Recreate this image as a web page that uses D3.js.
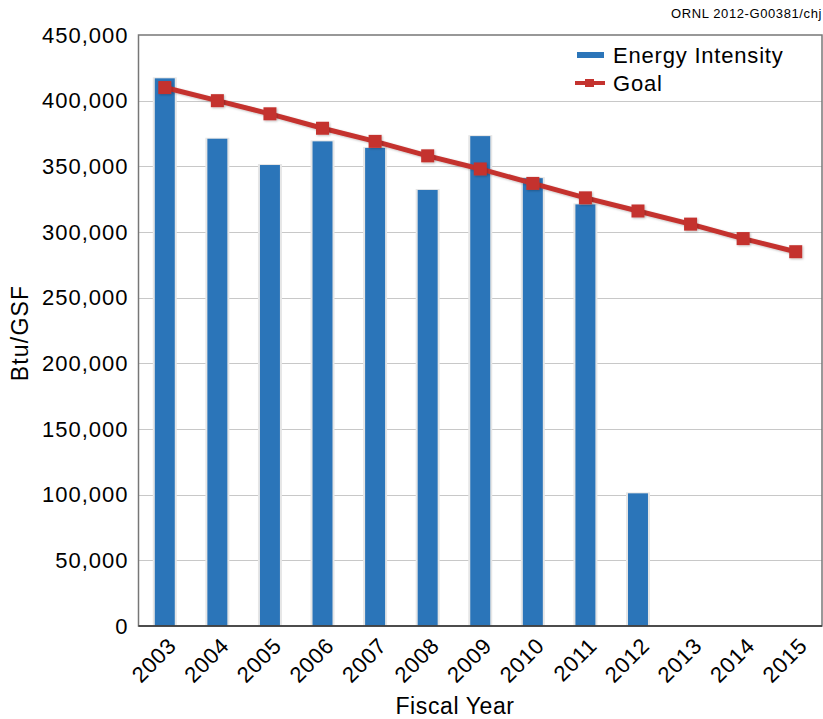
<!DOCTYPE html>
<html>
<head>
<meta charset="utf-8">
<script src="https://cdn.jsdelivr.net/npm/d3@7"></script>
<style>
  body { margin: 0; background: #fff; }
  text { font-family: "Liberation Sans", Arial, sans-serif; fill: #000; }
</style>
</head>
<body>
<svg id="chart"></svg>
<script>
// fiscal years and values
var years = ['2003', '2004', '2005', '2006', '2007', '2008', '2009', '2010', '2011', '2012', '2013', '2014', '2015']
var intensity = [417000, 371000, 351000, 369000, 364000, 332000, 373000, 341000, 321000, 101000, null, null, null]
var goal = [410000, 400000, 390000, 379000, 369000, 358000, 348000, 337000, 326000, 316000, 306000, 295000, 285000]
var yTicks = [0, 50000, 100000, 150000, 200000, 250000, 300000, 350000, 400000, 450000]

var blue = '#2b75b9'
var red = '#c4332f'

var margin = {top: 35, right: 1, bottom: 93, left: 138.5}
var width = 823 - margin.left - margin.right
var height = 719 - margin.top - margin.bottom

var svg = d3.select('#chart')
    .attr('width', 823)
    .attr('height', 719)

var defs = svg.append('defs')
var shadow = defs.append('filter')
    .attr('id', 'shadow')
    .attr('x', '-30%').attr('y', '-30%')
    .attr('width', '160%').attr('height', '160%')
shadow.append('feDropShadow')
    .attr('dx', 1).attr('dy', 1)
    .attr('stdDeviation', 1.2)
    .attr('flood-color', '#000')
    .attr('flood-opacity', 0.25)

var g = svg.append('g')
    .attr('transform', 'translate(' + margin.left + ',' + margin.top + ')')

var x = d3.scaleBand()
    .domain(years)
    .range([0, width])
    .paddingInner(0.62)
    .paddingOuter(0.31)

var xc = function (d) { return x(d) + x.bandwidth() / 2 }

var y = d3.scaleLinear()
    .domain([0, 450000])
    .range([height, 0])

// grid lines
g.append('g')
    .selectAll('line')
    .data(yTicks.slice(1, -1))
  .enter().append('line')
    .attr('x1', 0)
    .attr('x2', width)
    .attr('y1', function (d) { return Math.round(y(d)) + 0.5 })
    .attr('y2', function (d) { return Math.round(y(d)) + 0.5 })
    .attr('stroke', '#c8c8c8')
    .attr('stroke-width', 1.2)

// bars
var barData = years.map(function (d, i) { return {year: d, value: intensity[i]} })
    .filter(function (d) { return d.value !== null })

g.selectAll('.bar-shadow')
    .data(barData)
  .enter().append('rect')
    .attr('x', function (d) { return x(d.year) - 2 })
    .attr('width', x.bandwidth() + 4)
    .attr('y', function (d) { return y(d.value) - 1 })
    .attr('height', function (d) { return height - y(d.value) + 1 })
    .attr('fill', '#e6e6e6')

g.selectAll('.bar')
    .data(barData)
  .enter().append('rect')
    .attr('class', 'bar')
    .attr('x', function (d) { return x(d.year) })
    .attr('width', x.bandwidth())
    .attr('y', function (d) { return y(d.value) })
    .attr('height', function (d) { return height - y(d.value) })
    .attr('fill', blue)

// goal line
var goalData = years.map(function (d, i) { return {year: d, value: goal[i]} })

g.append('path')
    .datum(goalData)
    .attr('fill', 'none')
    .attr('stroke', red)
    .attr('stroke-width', 5)
    .attr('filter', 'url(#shadow)')
    .attr('d', d3.line()
      .x(function (d) { return xc(d.year) })
      .y(function (d) { return y(d.value) }))

g.selectAll('.marker')
    .data(goalData)
  .enter().append('rect')
    .attr('x', function (d) { return xc(d.year) - 6.5 })
    .attr('y', function (d) { return y(d.value) - 6.5 })
    .attr('width', 13)
    .attr('height', 13)
    .attr('fill', red)
    .attr('filter', 'url(#shadow)')

// frame
g.append('rect')
    .attr('x', 0)
    .attr('y', 0)
    .attr('width', width)
    .attr('height', height)
    .attr('fill', 'none')
    .attr('stroke', '#777')
    .attr('stroke-width', 1.5)

g.append('line')
    .attr('x1', 0).attr('x2', width)
    .attr('y1', height).attr('y2', height)
    .attr('stroke', '#333')
    .attr('stroke-width', 1.5)

// y axis labels
g.selectAll('.y-label')
    .data(yTicks)
  .enter().append('text')
    .attr('x', -10)
    .attr('y', function (d) { return y(d) })
    .attr('dy', '0.35em')
    .attr('text-anchor', 'end')
    .style('font-size', '22px')
    .style('letter-spacing', '1px')
    .text(function (d) { return d3.format(',')(d) })

// x axis labels
g.selectAll('.x-label')
    .data(years)
  .enter().append('text')
    .attr('text-anchor', 'end')
    .style('font-size', '22px')
    .style('letter-spacing', '0.8px')
    .attr('transform', function (d) {
      return 'translate(' + (xc(d) + 13) + ',' + (height + 21) + ') rotate(-45)'
    })
    .text(function (d) { return d })

// axis titles
svg.append('text')
    .attr('x', 455)
    .attr('y', 714)
    .attr('text-anchor', 'middle')
    .style('font-size', '23px')
    .style('letter-spacing', '0.6px')
    .text('Fiscal Year')

svg.append('text')
    .attr('transform', 'translate(28,' + 333 + ') rotate(-90)')
    .attr('text-anchor', 'middle')
    .style('font-size', '23px')
    .style('letter-spacing', '1.2px')
    .text('Btu/GSF')

svg.append('text')
    .attr('x', 822)
    .attr('y', 18)
    .attr('text-anchor', 'end')
    .style('font-size', '13px')
    .style('letter-spacing', '0.6px')
    .text('ORNL 2012-G00381/chj')

// legend
var legend = svg.append('g')
    .attr('transform', 'translate(577,55)')

legend.append('rect')
    .attr('x', 0).attr('y', -3)
    .attr('width', 27).attr('height', 6)
    .attr('fill', blue)

legend.append('text')
    .attr('x', 36).attr('y', 0)
    .attr('dy', '0.35em')
    .style('font-size', '22px')
    .style('letter-spacing', '0.8px')
    .text('Energy Intensity')

legend.append('line')
    .attr('x1', -2).attr('x2', 28)
    .attr('y1', 28).attr('y2', 28)
    .attr('stroke', red)
    .attr('stroke-width', 4)

legend.append('rect')
    .attr('x', 8).attr('y', 24)
    .attr('width', 9).attr('height', 8)
    .attr('fill', red)

legend.append('text')
    .attr('x', 36).attr('y', 28)
    .attr('dy', '0.35em')
    .style('font-size', '22px')
    .style('letter-spacing', '0.8px')
    .text('Goal')
</script>
</body>
</html>
